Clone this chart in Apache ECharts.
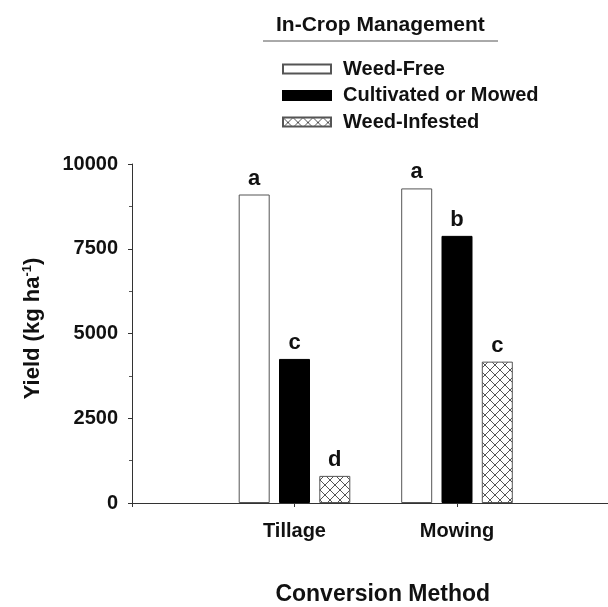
<!DOCTYPE html>
<html>
<head>
<meta charset="utf-8">
<script src="https://cdn.jsdelivr.net/npm/echarts@6/dist/echarts.min.js"></script>
<style>
  html, body { margin: 0; padding: 0; background: #fff; }
  #chart { width: 608px; height: 607px; }
</style>
</head>
<body>
<div id="chart"></div>
<script>
// data
var methods = ['Tillage', 'Mowing'];
var seriesNames = ['Weed-Free', 'Cultivated or Mowed', 'Weed-Infested'];
var weedFree = [9100, 9280];
var cultivated = [4250, 7880];
var infested = [800, 4170];
var weedFreeLetters = ['a', 'a'];
var cultivatedLetters = ['c', 'b'];
var infestedLetters = ['d', 'c'];
var yTicks = [0, 2500, 5000, 7500, 10000];

var FONT = '"Liberation Sans", Arial, sans-serif';

// cross hatch fill
function hatch() {
    var c = document.createElement('canvas');
    c.width = 10;
    c.height = 10;
    var ctx = c.getContext('2d');
    ctx.fillStyle = '#fff';
    ctx.fillRect(0, 0, 10, 10);
    ctx.strokeStyle = '#555';
    ctx.lineWidth = 1;
    ctx.beginPath();
    ctx.moveTo(-1, -1); ctx.lineTo(11, 11);
    ctx.moveTo(11, -1); ctx.lineTo(-1, 11);
    ctx.stroke();
    return c;
}

// empty slot each side so the axis starts/ends on a blank category
function pad(arr, blank) {
    return [blank].concat(arr, [blank]);
}

function letterLabel(letters) {
    return {
        show: true,
        position: 'top',
        distance: 5,
        fontSize: 22,
        fontWeight: 'bold',
        fontFamily: FONT,
        color: '#111',
        formatter: function (p) { return letters[p.dataIndex - 1]; }
    };
}

var myChart = echarts.init(document.getElementById('chart'));
var option = {
    animation: false,
    title: {
        text: 'In-Crop Management',
        left: 271,
        top: 10,
        textStyle: { fontSize: 21, fontWeight: 'bold', fontFamily: FONT, color: '#111' }
    },
    graphic: [{
        type: 'line',
        shape: { x1: 263, y1: 41, x2: 498, y2: 41 },
        style: { stroke: '#555', lineWidth: 1 }
    }],
    legend: {
        orient: 'vertical',
        left: 277,
        top: 54,
        itemWidth: 48,
        itemHeight: 9,
        itemGap: 6.5,
        icon: 'rect',
        data: seriesNames,
        textStyle: { fontSize: 20, fontWeight: 'bold', fontFamily: FONT, color: '#111', padding: [0, 0, 0, 7] }
    },
    grid: {
        left: 132,
        right: -11.5,
        top: 164,
        bottom: 104,
        containLabel: false,
        outerBoundsMode: 'none'
    },
    xAxis: {
        type: 'category',
        boundaryGap: false,
        data: pad(methods, ''),
        name: 'Conversion Method',
        nameLocation: 'middle',
        nameGap: 80,
        nameTextStyle: { fontSize: 23, fontWeight: 'bold', fontFamily: FONT, color: '#111', padding: [0, 0, 0, 14] },
        axisLine: { lineStyle: { color: '#333', width: 1 } },
        axisTick: { show: true, length: 4, lineStyle: { color: '#333' } },
        axisLabel: { margin: 18, fontSize: 20, fontWeight: 'bold', fontFamily: FONT, color: '#111', interval: 0 },
        splitLine: { show: false }
    },
    yAxis: {
        type: 'value',
        min: yTicks[0],
        max: yTicks[yTicks.length - 1],
        interval: 2500,
        name: 'Yield (kg ha{sup|-1})',
        nameLocation: 'middle',
        nameRotate: 90,
        nameGap: 88,
        nameTextStyle: {
            fontSize: 22, fontWeight: 'bold', fontFamily: FONT, color: '#111', padding: [0, 0, 0, 10],
            rich: { sup: { fontSize: 13, fontWeight: 'bold', fontFamily: FONT, color: '#111', verticalAlign: 'top', padding: [0, 0, 10, 0] } }
        },
        axisLine: { show: true, lineStyle: { color: '#333', width: 1 } },
        axisTick: { show: true, length: 4, lineStyle: { color: '#333' } },
        minorTick: { show: true, splitNumber: 2, length: 3, lineStyle: { color: '#555' } },
        axisLabel: {
            margin: 14, fontSize: 20, fontWeight: 'bold', fontFamily: FONT, color: '#111',
            formatter: function (v) { return String(v); }
        },
        splitLine: { show: false }
    },
    series: [{
        name: seriesNames[0],
        type: 'bar',
        barWidth: 31,
        barGap: '30%',
        itemStyle: { color: '#fff', borderColor: '#555', borderWidth: 1 },
        label: letterLabel(weedFreeLetters),
        data: pad(weedFree, null)
    }, {
        name: seriesNames[1],
        type: 'bar',
        barWidth: 31,
        barGap: '30%',
        itemStyle: { color: '#000', borderColor: '#000', borderWidth: 1 },
        label: letterLabel(cultivatedLetters),
        data: pad(cultivated, null)
    }, {
        name: seriesNames[2],
        type: 'bar',
        barWidth: 31,
        barGap: '30%',
        itemStyle: { color: { image: hatch(), repeat: 'repeat' }, borderColor: '#555', borderWidth: 1 },
        label: letterLabel(infestedLetters),
        data: pad(infested, null)
    }]
};
myChart.setOption(option);
window.addEventListener('resize', function () {
    myChart.resize();
});
</script>
</body>
</html>
